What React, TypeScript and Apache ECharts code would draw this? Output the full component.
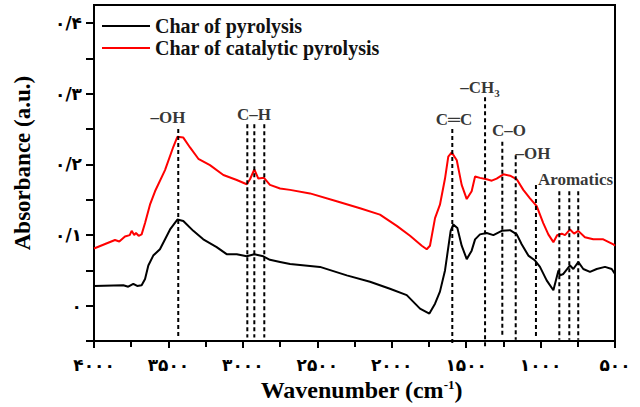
import React, { useEffect, useRef } from "react";
import * as echarts from "echarts";

// Wavenumber (cm-1) / absorbance pairs
const pyrolysisWave = [4000, 3803, 3770, 3736, 3710, 3680, 3657, 3635, 3602, 3557, 3489, 3440, 3400, 3333, 3266, 3176, 3109, 3041, 2974, 2923, 2863, 2818, 2750, 2683, 2482, 2302, 2146, 2012, 1899, 1810, 1747, 1709, 1676, 1642, 1604, 1586, 1559, 1530, 1496, 1463, 1440, 1407, 1362, 1317, 1261, 1205, 1160, 1127, 1082, 1037, 1004, 959, 914, 880, 869, 847, 802, 780, 747, 713, 668, 623, 567, 522, 500];
const pyrolysisAbs = [0.028, 0.029, 0.027, 0.031, 0.028, 0.029, 0.038, 0.057, 0.071, 0.080, 0.108, 0.122, 0.120, 0.106, 0.094, 0.083, 0.073, 0.073, 0.070, 0.073, 0.070, 0.065, 0.062, 0.059, 0.055, 0.043, 0.034, 0.024, 0.015, -0.004, -0.011, 0.003, 0.020, 0.050, 0.106, 0.115, 0.110, 0.085, 0.066, 0.078, 0.094, 0.101, 0.103, 0.100, 0.106, 0.107, 0.101, 0.087, 0.071, 0.064, 0.055, 0.036, 0.022, 0.050, 0.043, 0.045, 0.057, 0.052, 0.062, 0.052, 0.048, 0.052, 0.055, 0.052, 0.045];

const catalyticWave = [4000, 3859, 3830, 3792, 3760, 3747, 3730, 3718, 3700, 3680, 3657, 3624, 3590, 3523, 3467, 3440, 3400, 3355, 3299, 3221, 3131, 3041, 2974, 2952, 2923, 2896, 2858, 2818, 2750, 2683, 2549, 2370, 2213, 2079, 1966, 1877, 1798, 1765, 1743, 1709, 1676, 1642, 1620, 1597, 1563, 1530, 1496, 1463, 1440, 1407, 1362, 1328, 1295, 1250, 1205, 1160, 1116, 1071, 1026, 982, 948, 914, 888, 858, 836, 802, 775, 747, 702, 646, 579, 511, 500];
const catalyticAbs = [0.081, 0.093, 0.091, 0.098, 0.100, 0.106, 0.100, 0.103, 0.099, 0.101, 0.117, 0.143, 0.162, 0.192, 0.225, 0.239, 0.238, 0.224, 0.208, 0.199, 0.185, 0.178, 0.172, 0.179, 0.193, 0.180, 0.181, 0.171, 0.166, 0.164, 0.159, 0.148, 0.138, 0.129, 0.113, 0.099, 0.085, 0.080, 0.085, 0.124, 0.143, 0.180, 0.211, 0.217, 0.206, 0.171, 0.151, 0.162, 0.183, 0.181, 0.179, 0.177, 0.180, 0.186, 0.184, 0.179, 0.164, 0.152, 0.141, 0.117, 0.101, 0.090, 0.100, 0.102, 0.100, 0.108, 0.102, 0.106, 0.097, 0.094, 0.094, 0.087, 0.085];

// Dashed marker lines: wavenumber, top, bottom
const markerWave = [3434, 2970, 2923, 2856, 1593, 1373, 1257, 1167, 1031, 874, 807, 747];
const markerTop = [0.250, 0.257, 0.257, 0.257, 0.250, 0.295, 0.232, 0.213, 0.171, 0.162, 0.162, 0.162];
const markerBottom = [-0.046, -0.045, -0.045, -0.045, -0.056, -0.06, -0.043, -0.048, -0.043, -0.048, -0.048, -0.048];

// Band labels
const bandLabels = ["–OH", "C–H", "C═C", "–CH{sub|3}", "C–O", "–OH", "Aromatics"];
const bandWave = [3503, 2925, 1582, 1407, 1212, 1051, 765];
const bandAbs = [0.267, 0.271, 0.264, 0.309, 0.248, 0.215, 0.178];

const xTicks = { min: 500, max: 4000, interval: 500 };
const yRange = { min: -0.05, max: 0.4256 };
const yTickValues = [-0.05, 0, 0.05, 0.1, 0.15, 0.2, 0.25, 0.3, 0.35, 0.4];
const yLabelValues = [0, 0.1, 0.2, 0.3, 0.4];

const seriesNames = ["Char of pyrolysis", "Char of catalytic pyrolysis"];

const PERSIAN = "۰۱۲۳۴۵۶۷۸۹";
const toPersian = (s: string) => s.replace(/[0-9]/g, (d) => PERSIAN[Number(d)]);

export default function App() {
  const ref = useRef<HTMLDivElement>(null);
  useEffect(() => {
    document.body.style.margin = "0";
    if (!ref.current) return;
    const chart = echarts.init(ref.current, null, { renderer: "svg" });
    const serif = "'Liberation Serif', 'Times New Roman', serif";
    const markerSeries = markerWave.map((w, i) => ({
      type: "line",
      name: "m" + i,
      data: [
        [w, markerTop[i]],
        [w, markerBottom[i]],
      ],
      symbol: "none",
      clip: false,
      silent: true,
      z: 4,
      lineStyle: { color: "#000", width: 2, type: [4, 3] },
    }));
    chart.setOption({
      animation: false,
      grid: {
        left: 94,
        right: 25,
        top: 5,
        bottom: 62,
        show: true,
        borderColor: "#000",
        borderWidth: 2,
        containLabel: false,
      },
      legend: {
        data: seriesNames,
        orient: "vertical",
        left: 97,
        top: 10,
        itemGap: 0,
        icon: "rect",
        itemWidth: 48,
        itemHeight: 2,
        textStyle: {
          fontFamily: serif,
          fontWeight: "bold",
          fontSize: 20,
          color: "#111",
          lineHeight: 22,
        },
      },
      xAxis: {
        type: "value",
        inverse: true,
        min: xTicks.min,
        max: xTicks.max,
        interval: xTicks.interval,
        splitLine: { show: false },
        axisLine: { show: true, onZero: false, lineStyle: { color: "#000", width: 2 } },
        axisTick: { show: true, inside: false, length: 7, lineStyle: { color: "#000", width: 2 } },
        minorTick: { show: true, splitNumber: 2, length: 6, lineStyle: { color: "#000", width: 2 } },
        axisLabel: {
          margin: 15,
          fontFamily: "'DejaVu Sans', sans-serif",
          fontWeight: "bold",
          fontSize: 17,
          color: "#000",
          formatter: (v: number) => toPersian(String(v)),
        },
        name: "Wavenumber (cm{sup|-1})",
        nameLocation: "middle",
        nameGap: 31,
        nameTextStyle: {
          fontFamily: serif,
          fontWeight: "bold",
          fontSize: 24,
          color: "#000",
          padding: [0, 0, 0, 14],
          rich: {
            sup: { fontFamily: serif, fontWeight: "bold", fontSize: 13, verticalAlign: "top", padding: [0, 0, 9, 0] },
          },
        },
      },
      yAxis: {
        type: "value",
        min: yRange.min,
        max: yRange.max,
        splitLine: { show: false },
        axisLine: { show: true, onZero: false, lineStyle: { color: "#000", width: 2 } },
        axisTick: { show: true, inside: false, length: 8, customValues: yTickValues, lineStyle: { color: "#000", width: 2 } },
        axisLabel: {
          margin: 12,
          customValues: yLabelValues,
          fontFamily: "'DejaVu Sans', sans-serif",
          fontWeight: "bold",
          fontSize: 17,
          color: "#000",
          formatter: (v: number) => {
            const k = Math.round(v * 10);
            if (k === 0) return toPersian("0");
            return toPersian("0/" + String(k));
          },
        },
        name: "Absorbance (a.u.)",
        nameLocation: "middle",
        nameGap: 60,
        nameTextStyle: {
          fontFamily: serif,
          fontWeight: "bold",
          fontSize: 23,
          color: "#000",
          padding: [0, 0, 0, 20],
        },
      },
      series: [
        {
          type: "line",
          name: seriesNames[0],
          data: pyrolysisWave.map((w, i) => [w, pyrolysisAbs[i]]),
          symbol: "none",
          color: "#000",
          lineStyle: { color: "#000", width: 2 },
          z: 3,
        },
        {
          type: "line",
          name: seriesNames[1],
          data: catalyticWave.map((w, i) => [w, catalyticAbs[i]]),
          symbol: "none",
          color: "#ff0000",
          lineStyle: { color: "#ff0000", width: 2 },
          z: 3,
        },
        ...markerSeries,
        {
          type: "scatter",
          name: "labels",
          symbolSize: 0.01,
          silent: true,
          z: 5,
          data: bandLabels.map((t, i) => ({ name: t, value: [bandWave[i], bandAbs[i]] })),
          label: {
            show: true,
            position: "inside",
            formatter: (p: any) => p.name,
            fontFamily: serif,
            fontWeight: "bold",
            fontSize: 17,
            color: "#000",
            rich: {
              sub: { fontFamily: serif, fontWeight: "bold", fontSize: 11, verticalAlign: "bottom", padding: [11, 0, 0, 0] },
            },
          },
        },
      ],
    });
    return () => chart.dispose();
  }, []);
  return <div ref={ref} style={{ width: 640, height: 407 }} />;
}
